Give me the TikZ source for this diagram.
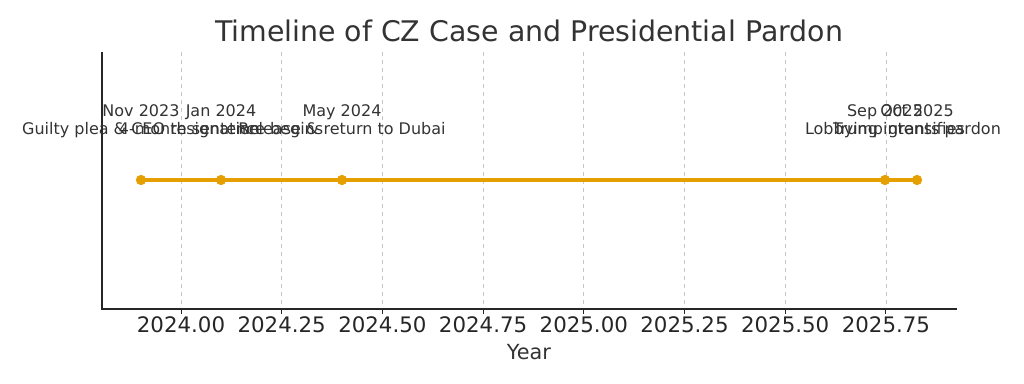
\documentclass[tikz,border=0pt]{standalone}
\usepackage{fontspec}
\setmainfont{DejaVu Sans}
\definecolor{lineorange}{HTML}{E69F00}
\definecolor{txt}{HTML}{333333}
\begin{document}
\begin{tikzpicture}[x=0.75pt,y=-0.75pt,
  gridline/.style={draw=black!22,dashed,line width=0.6pt},
  spine/.style={draw=black!85,line width=1pt},
  tickmark/.style={draw=black!85,line width=0.7pt},
  ticklab/.style={font=\fontsize{16}{16}\selectfont,text=black!85,anchor=base,inner sep=0pt},
  datelab/.style={font=\fontsize{12}{12}\selectfont,text=txt,inner sep=0pt,anchor=base},
  evt/.style={circle,fill=lineorange,inner sep=0pt,minimum size=7.5pt},
]
\useasboundingbox (0,0) rectangle (1024,384);
% grid and ticks
\foreach \k/\lab in {0/2024.00,1/2024.25,2/2024.50,3/2024.75,4/2025.00,5/2025.25,6/2025.50,7/2025.75}{
  \pgfmathsetmacro\xx{181+\k*100.7}
  \draw[gridline] (\xx,52) -- (\xx,309);
  \draw[tickmark] (\xx,309) -- (\xx,314);
  \node[ticklab] (t\k) at (\xx,333) {\lab};
}
% spines
\coordinate (ytop) at (102,52);
\coordinate (orig) at (102,309);
\coordinate (xend) at (957,309);
\draw[spine] (ytop) -- (orig) -- (xend);
% title and axis label
\node[font=\fontsize{21.3}{22}\selectfont,text=txt,anchor=base,inner sep=0pt] (title) at (529,42) {Timeline of CZ Case and Presidential Pardon};
\node[font=\fontsize{15.6}{16}\selectfont,text=txt,anchor=base,inner sep=0pt] (xlabel) at (529,359) {Year};
% events
\node[evt] (p1) at (141,180) {};
\node[evt] (p2) at (221,180) {};
\node[evt] (p3) at (342,180) {};
\node[evt] (p4) at (885,180) {};
\node[evt] (p5) at (917,180) {};
\draw[lineorange,line width=2.3pt] (p1.center) -- (p2.center) -- (p3.center) -- (p4.center) -- (p5.center);
\foreach \p in {p1,p2,p3,p4,p5}{\fill[lineorange] (\p) circle (3.75pt);}
% labels
\node[datelab] (d1) at (141,117) {Nov 2023};
\node[datelab] (e1) at (141,135) {Guilty plea \& CEO resignation};
\node[datelab] (d2) at (221,117) {Jan 2024};
\node[datelab] (e2) at (221,135) {4-month sentence begins};
\node[datelab] (d3) at (342,117) {May 2024};
\node[datelab] (e3) at (342,135) {Release \& return to Dubai};
\node[datelab] (d4) at (885,117) {Sep 2025};
\node[datelab] (e4) at (885,135) {Lobbying intensifies};
\node[datelab] (d5) at (917,117) {Oct 2025};
\node[datelab] (e5) at (917,135) {Trump grants pardon};
\end{tikzpicture}
\end{document}
